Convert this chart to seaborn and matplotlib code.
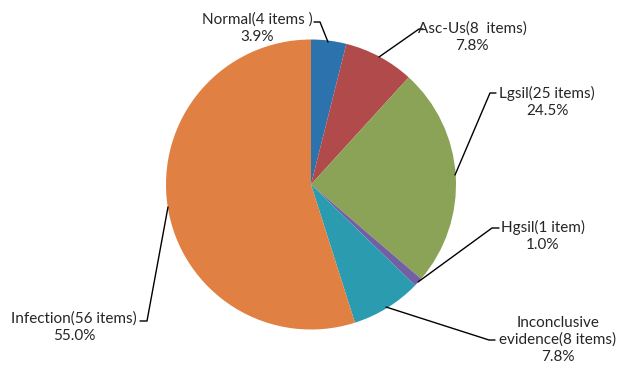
import matplotlib
matplotlib.use("Agg")
import matplotlib.pyplot as plt
import seaborn as sns

# data
categories = ["Normal", "Asc-Us", "Lgsil", "Hgsil", "Inconclusive\nevidence", "Infection"]
counts = [4, 8, 25, 1, 8, 56]
count_text = ["(4 items )", "(8  items)", "(25 items)", "(1 item)", "(8 items)", "(56 items)"]
percents = ["3.9%", "7.8%", "24.5%", "1.0%", "7.8%", "55.0%"]
colors = ["#2C72AC", "#B04A4B", "#8BA357", "#7160A3", "#2B9BB0", "#E08043"]

sns.set_theme(style="white")
plt.rcParams["font.family"] = ["Lato", "DejaVu Sans"]

W, H = 619, 367
fig = plt.figure(figsize=(W / 100, H / 100), dpi=100)
ax = fig.add_axes([0, 0, 1, 1])


def Y(y):
    return H - y


cx, cy, r = 311, 184.5, 145
ax.pie(counts, colors=colors, startangle=90, counterclock=False,
       center=(cx, Y(cy)), radius=r, frame=True,
       wedgeprops=dict(linewidth=0))
ax.set_xlim(0, W)
ax.set_ylim(0, H)
ax.set_aspect("equal")
ax.axis("off")

# label placement (text center, leader line path) in pixel coords
labels_pos = [
    ((257, 28), [(314, 22), (320, 22), (328, 42)]),
    ((472, 37), [(423, 29), (419, 29), (379, 57)]),
    ((547, 102), [(496, 93), (490, 93), (455, 175)]),
    ((543, 236), [(499, 228), (492, 228), (418, 282)]),
    ((558, 340), [(495, 340), (489, 340), (386, 307)]),
    ((74, 327), [(140, 321), (147, 321), (168, 207)]),
]

for cat, ct, pct, (pos, path) in zip(categories, count_text, percents, labels_pos):
    if "\n" in cat:
        first, second = cat.split("\n")
        txt = first + "\n" + second + ct + "\n" + pct
    else:
        txt = cat + ct + "\n" + pct
    ax.text(pos[0], Y(pos[1]), txt, ha="center", va="center",
            fontsize=11, color="#262626", linespacing=1.25)
    xs = [p[0] for p in path]
    ys = [Y(p[1]) for p in path]
    ax.plot(xs, ys, color="black", lw=1.0)

plt.savefig("out.png", dpi=100)
